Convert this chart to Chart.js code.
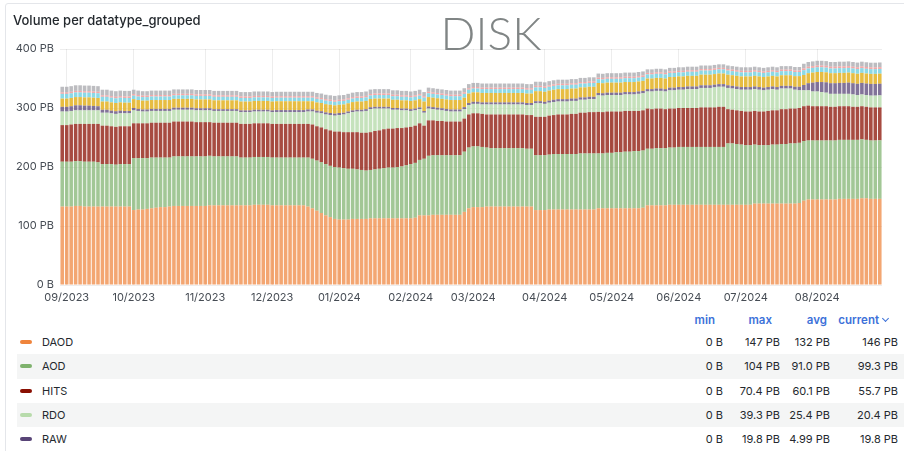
<!DOCTYPE html>
<html lang="en">
<head>
    <meta charset="UTF-8">
    <title>Volume per datatype_grouped</title>
    <script src="https://cdn.jsdelivr.net/npm/chart.js"></script>
    <style>
        body { margin: 0; width: 904px; height: 451px; overflow: hidden; background: #fff;
               font-family: Inter, "Noto Sans", sans-serif; position: relative; }
        .panel { position: absolute; left: 5px; top: 3px; width: 920px; height: 470px;
                 border: 1px solid #e4e6ea; border-radius: 3px; box-sizing: border-box; }
        .title { position: absolute; left: 13px; top: 12px; font-size: 13px; font-weight: 500;
                 line-height: 16px; color: #24292e; }
        .disk { position: absolute; left: 391px; top: 10px; width: 200px; text-align: center;
                font-family: Lato, sans-serif; font-weight: 300; font-size: 46px; line-height: 46px; color: #808585; }
        #chartBox { position: absolute; left: 0; top: 0; width: 904px; height: 310px; }
        .hdr { position: absolute; top: 312px; height: 16px; line-height: 16px; font-size: 11.5px;
               font-weight: 600; color: #3d71d9; text-align: right; }
        .chev { display: inline-block; width: 4px; height: 4px; border-right: 1.3px solid #3d71d9;
                border-bottom: 1.3px solid #3d71d9; transform: rotate(45deg); margin-left: 4px;
                position: relative; top: -3px; }
        .row { position: absolute; left: 17px; width: 887px; height: 24.3px; }
        .row.alt { background: #f4f5f5; }
        .dash { position: absolute; left: 3px; top: 10px; width: 12px; height: 4px; border-radius: 2px; }
        .name { position: absolute; left: 25px; top: 0; line-height: 24px; font-size: 11px; color: #24292e; }
        .val { position: absolute; top: 0; line-height: 24px; font-size: 11px; color: #24292e; text-align: right; }
    </style>
</head>
<body>
    <div class="panel"></div>
    <div id="chartBox"><canvas id="diskChart" width="904" height="310"></canvas></div>
    <div class="title">Volume per datatype_grouped</div>
    <div class="disk">DISK</div>
    <div id="legend"></div>

    <script>
        // bars every 2 days, from 30/08/2023 to 30/08/2024
        const startDate = Date.UTC(2023, 7, 30);
        const stepDays = 2;

        const tickLabels = ['09/2023', '10/2023', '11/2023', '12/2023', '01/2024', '02/2024',
                            '03/2024', '04/2024', '05/2024', '06/2024', '07/2024', '08/2024'];

        // volumes in PB
        const daod = [
            133,133,133,134,134,133,133,133,133,133,
            133,133,133,133,133,133,127,128,128,129,
            130,131,132,132,133,134,134,134,134,134,
            134,134,134,135,135,135,135,135,135,135,
            135,135,135,136,136,136,136,135,135,135,
            135,135,135,135,135,133,130,126,122,118,
            115,112,111,111,111,112,112,112,112,113,
            113,113,113,113,113,113,113,113,113,114,
            118,118,118,119,119,119,119,119,119,119,
            124,130,132,132,132,133,133,133,133,133,
            133,133,133,133,133,133,127,127,127,128,
            128,128,128,128,128,128,128,128,128,128,
            130,130,130,130,130,130,130,130,130,130,
            131,135,135,135,135,135,136,136,136,136,
            136,136,136,136,136,136,136,136,136,136,
            136,136,136,136,136,138,138,138,138,138,
            138,138,138,138,138,139,143,145,145,145,
            145,145,145,145,146,146,146,146,146,147,
            147,146,146,146
        ];
        const aod = [
            76,76,76,76,76,76,76,76,75,72,
            72,72,71,72,72,72,88,87,87,86,
            86,85,84,84,83,84,84,84,84,84,
            84,84,84,84,83,83,83,83,83,83,
            81,81,81,81,81,81,81,81,81,81,
            81,81,81,81,81,83,84,85,86,87,
            87,88,88,87,86,85,84,83,82,82,
            83,84,85,86,86,87,88,90,92,93,
            94,96,101,101,101,101,101,101,101,101,
            102,103,103,103,102,100,99,99,99,99,
            99,99,99,99,98,98,93,93,93,93,
            94,94,94,94,94,94,95,95,95,95,
            93,93,94,94,95,95,96,96,97,97,
            97,96,96,97,97,97,97,97,98,98,
            98,98,98,98,98,98,98,98,98,104,
            104,103,102,101,101,100,99,99,99,100,
            100,101,101,102,102,102,101,100,100,100,
            100,100,100,100,100,100,100,100,100,100,
            99,99,99,99.3
        ];
        const hits = [
            62,62,63,63,63,64,64,64,65,65,
            65,64,64,64,64,64,59,59,59,59,
            59,59,59,59,59,59,59,59,59,59,
            58,58,58,57,57,57,57,57,57,57,
            57,57,57,57,57,57,57,57,57,57,
            57,57,57,57,57,57,58,58,59,59,
            60,60,61,61,62,62,63,63,64,64,
            65,65,66,66,66,66,65,64,63,63,
            62,56,60,59,58,58,57,57,57,57,
            56,56,56,56,56,56,57,57,57,57,
            57,57,57,57,57,57,65,65,65,66,
            66,67,67,67,68,68,69,69,70,70,
            70.4,70,70,70,69,69,69,69,68,68,
            68,68,67,67,67,66,66,66,66,66,
            66,66,66,67,67,67,67,68,68,58,
            57,57,57,57,57,57,57,57,58,58,
            58,59,59,59,59,59,59,59,58,58,
            58,58,57,57,57,57,57,56,56,56,
            56,56,56,55.7
        ];
        const rdo = [
            23,23,23,23,23,23,23,23,23,22,
            22,22,22,22,22,22,22,21,20,20,
            20,20,20,20,20,20,20,20,20,20,
            20,20,20,20,20,20,20,20,20,20,
            20,20,20,20,20,20,20,20,20,20,
            20,20,20,20,20,21,22,23,24,25,
            26,27,28,30,32,34,35,36,37,39.3,
            38,37,35,34,32,31,30,29,27,26,
            24,22,20,19,19,18,18,17,17,17,
            16,16,16,16,16,17,17,17,17,17,
            17,17,17,17,17,17,23,23,22,22,
            22,22,22,22,22,22,22,22,22,22,
            28,28,28,28,28,28,28,28,28,29,
            29,29,30,30,30,30,31,31,31,31,
            32,32,32,33,33,33,34,34,34,36,
            36,36,36,37,37,37,37,36,36,36,
            35,35,35,34,32,30,27,26,25,25,
            24,23,22,22,21,21,21,21,20,20,
            20,20,20,20.4
        ];
        const raw = [
            8,8,8,8.5,8.5,8,8,7.5,7,5,
            5,4.5,4.5,4.5,4,4,4,3.5,3.5,3.5,
            3.5,3.5,3.5,3.5,3.5,3.5,3.5,3.5,3.5,3.5,
            3.5,3.5,3.5,3.5,3,3,3,3,3,3,
            3,3,3,3,3,3,3,3,3.5,3.5,
            3.5,3.5,3.5,3.5,3.5,3.5,3.5,3.5,3.5,3.5,
            3.5,3.5,3.5,3,3,3,3,3,3,3,
            3,3,3,3,3,3,3,3,3,3,
            3,3,3.5,3.5,3.5,3.5,3.5,3.5,3.5,3.5,
            3.5,3.5,3.5,3.5,3.5,3.5,3.5,3.5,3.5,3.5,
            3.5,3.5,3.5,3.5,3.5,3.5,3.5,3.5,3.5,3.5,
            4,4,4,4,4,4,4,4,4,4,
            4,4,4,4,4,4,4,4,4,4,
            4,4,4,4,4,4,4.5,4.5,4.5,4.5,
            4.5,4.5,4.5,4.5,4.5,4.5,4.5,4.5,4.5,4.5,
            4.5,4.5,4.5,4.5,4.5,4.5,4.5,4.5,4.5,4.5,
            4.5,4.5,4.5,4.5,5,6,9,12,15,16,
            17,17.5,18,18,18.5,18.5,19,19,19,19.5,
            19.5,19.8,19.8,19.8
        ];
        const evnt = [
            14,14,14,14,14,14,14,14,14,14,
            14,14,14,14,14,14,15,15,15,15,
            15,15,15,15,15,15,15,15,15,15,
            15,15,15,15,15,15,15,15,15,15,
            15,15,15,15,15,15,15,15,15,15,
            15,15,15,15,15,14,14,14,14,14,
            14,14,14,14,14,14,14,14,14,14,
            14,14,14,14,14,14,14,14,14,14,
            14,16,16,16,16,16,16,16,16,16,
            16,16,16,16,16,16,16,16,16,16,
            16,16,16,16,16,16,17,17,17,17,
            17,17,17,17,17,17,17,17,17,17,
            17,17,17,17,17,17,17,17,17,17,
            17,18,18,18,18,18,18,18,18,18,
            18,18,18,18,18,18,18,18,18,18,
            18,18,18,18,18,18,18,18,18,18,
            18,18,18,18,18,18,17,17,17,17,
            17,17,17,17,17,17,17,17,17,17,
            17,17,17,17
        ];
        const ntup = [
            8,8,8,8,8,8,8,8,8,8,
            8,8,8,8,8,8,6,6,6,6,
            6,6,6,6,6,6,6,6,6,6,
            6,6,6,6,6,6,6,6,6,6,
            6,6,6,6,6,6,6,6,6,6,
            6,6,6,6,6,6,6,6,6,6,
            6,6,6,6,6,6,6,6,6,6,
            6,6,6,6,6,6,6,6,6,6,
            6,6.5,6.5,6.5,6.5,6.5,6.5,6.5,6.5,6.5,
            6.5,6.5,6.5,6.5,6.5,6.5,6.5,6.5,6.5,6.5,
            6.5,6.5,6.5,6.5,6.5,6.5,6.5,6.5,6.5,6.5,
            6.5,6.5,6.5,6.5,6.5,6.5,6.5,6.5,6.5,6.5,
            6.5,6.5,6.5,6.5,6.5,6.5,6.5,6.5,6.5,6.5,
            6.5,7,7,7,7,7,7,7,7,7,
            7,7,7,7,7,7,7,7,7,7,
            7,7,7,7,7,7,7,7,7,7,
            7,7,7,7,7,7,8,8,8,8,
            8,8,8,8,8,8,8,8,8,8,
            8,8,8,8
        ];
        const hist = [
            2.5,2.5,2.5,2.5,2.5,2.5,2.5,2.5,2.5,2.5,
            2.5,2.5,2.5,2.5,2.5,2.5,2.5,2.5,2.5,2.5,
            2.5,2.5,2.5,2.5,2.5,2.5,2.5,2.5,2.5,2.5,
            2.5,2.5,2.5,2.5,2.5,2.5,2.5,2.5,2.5,2.5,
            2.5,2.5,2.5,2.5,2.5,2.5,2.5,2.5,2.5,2.5,
            2.5,2.5,2.5,2.5,2.5,2.5,2.5,2.5,2.5,2.5,
            2.5,2.5,2.5,2.5,2.5,2.5,2.5,2.5,2.5,2.5,
            2.5,2.5,2.5,2.5,2.5,2.5,2.5,2.5,2.5,2.5,
            2.5,2.5,2.5,2.5,2.5,2.5,2.5,2.5,2.5,2.5,
            2.5,2.5,2.5,2.5,2.5,2.5,2.5,2.5,2.5,2.5,
            2.5,2.5,2.5,2.5,2.5,2.5,2.5,2.5,2.5,2.5,
            2.5,2.5,2.5,2.5,2.5,2.5,2.5,2.5,2.5,2.5,
            2.5,2.5,2.5,2.5,2.5,2.5,2.5,2.5,2.5,2.5,
            2.5,2.5,2.5,2.5,2.5,2.5,2.5,2.5,2.5,2.5,
            2.5,2.5,2.5,2.5,2.5,2.5,2.5,2.5,2.5,2.5,
            2.5,2.5,2.5,2.5,2.5,2.5,2.5,2.5,2.5,2.5,
            2.5,2.5,2.5,2.5,2.5,2.5,3,3,3,3,
            3,3,3,3,3,3,3,3,3,3,
            3,3,3,3
        ];
        const logs = [
            9.5,9.5,9.5,9.5,9.5,9.5,9.5,9.5,9.5,9.5,
            9.5,9.5,9.5,9.5,9.5,9.5,7.5,7.5,7.5,7.5,
            7.5,7.5,7.5,7.5,7.5,7.5,7.5,7.5,7.5,7.5,
            7.5,7.5,7.5,7.5,7.5,7.5,7.5,7.5,7.5,7.5,
            7.5,7.5,7.5,7.5,7.5,7.5,7.5,7.5,7.5,7.5,
            7.5,7.5,7.5,7.5,7.5,7.5,7.5,7.5,7.5,7.5,
            7.5,7.5,7.5,7.5,7.5,7.5,7.5,7.5,7.5,7.5,
            7.5,7.5,7.5,7.5,7.5,7.5,7.5,7.5,7.5,7.5,
            7.5,7,7,7,7,7,7,7,7,7,
            7,7,7,7,7,7,7,7,7,7,
            7,7,7,7,7,7,7,7,7,7,
            7,7,7,7,7,7,7,7,7,7,
            7,7,7,7,7,7,7,7,7,7,
            7,6,6,6,6,6,6,6,6,6,
            6,6,6,6,6,6,6,6,6,6,
            6,6,6,6,6,6,6,6,6,6,
            6,6,6,6,6,6,8,8,8,8,
            8,8,8,8,8,8,8,8,8,8,
            8,8,8,8
        ];

        const seriesNames = ['DAOD', 'AOD', 'HITS', 'RDO', 'RAW', 'EVNT', 'NTUP', 'HIST', 'log'];
        const seriesData = [daod, aod, hits, rdo, raw, evnt, ntup, hist, logs];

        // legend stats (only the first five rows are visible)
        const statMin = ['0 B', '0 B', '0 B', '0 B', '0 B'];
        const statMax = ['147 PB', '104 PB', '70.4 PB', '39.3 PB', '19.8 PB'];
        const statAvg = ['132 PB', '91.0 PB', '60.1 PB', '25.4 PB', '4.99 PB'];
        const statCurrent = ['146 PB', '99.3 PB', '55.7 PB', '20.4 PB', '19.8 PB'];

        const lineColors = ['#EF843C', '#7EB26D', '#890F02', '#B7DBAB', '#584477',
                            '#EAB839', '#6ED0E0', '#F29191', '#A0A0A0'];
        const barColors = ['rgba(239,132,60,0.72)', 'rgba(126,178,109,0.72)', 'rgba(137,15,2,0.75)',
                           'rgba(183,219,171,0.8)', 'rgba(88,68,119,0.75)', 'rgba(228,180,40,0.88)',
                           'rgba(110,208,224,0.8)', 'rgba(242,145,145,0.8)', 'rgba(160,160,165,0.7)'];

        // date categories
        const pad = n => String(n).padStart(2, '0');
        const labels = daod.map((_, i) => {
            const d = new Date(startDate + i * stepDays * 86400000);
            return d.getUTCFullYear() + '-' + pad(d.getUTCMonth() + 1) + '-' + pad(d.getUTCDate());
        });
        const monthOf = l => l.slice(5, 7) + '/' + l.slice(0, 4);
        const tickIndex = tickLabels.map(t => labels.findIndex(l => monthOf(l) === t));

        const tickColor = '#464c54';
        const gridColor = 'rgba(0,0,0,0.07)';

        new Chart(document.getElementById('diskChart'), {
            type: 'bar',
            data: {
                labels: labels,
                datasets: seriesNames.map((name, k) => ({
                    label: name,
                    data: seriesData[k],
                    backgroundColor: barColors[k],
                    borderWidth: 0,
                    barPercentage: 0.8,
                    categoryPercentage: 1
                }))
            },
            options: {
                responsive: false,
                animation: false,
                devicePixelRatio: 1,
                layout: { padding: { top: 49, right: 22, left: 0, bottom: 0 } },
                plugins: { legend: { display: false }, tooltip: { enabled: false } },
                scales: {
                    x: {
                        stacked: true,
                        border: { display: false },
                        grid: { offset: false, color: gridColor, drawTicks: false },
                        afterBuildTicks: s => { s.ticks = tickIndex.map(v => ({ value: v })); },
                        afterFit: s => { s.height = 25; },
                        ticks: {
                            autoSkip: false, maxRotation: 0, padding: 6, color: tickColor,
                            font: { family: 'Inter', size: 11 },
                            callback: v => tickLabels[tickIndex.indexOf(v)]
                        }
                    },
                    y: {
                        stacked: true,
                        min: 0,
                        max: 400,
                        border: { display: false },
                        grid: { color: gridColor, drawTicks: false },
                        afterFit: s => { s.width = 60; },
                        ticks: {
                            stepSize: 100, padding: 6, color: tickColor,
                            font: { family: 'Inter', size: 11 },
                            callback: v => v === 0 ? '0 B' : v + ' PB'
                        }
                    }
                }
            }
        });

        // legend table under the chart
        const legend = document.getElementById('legend');
        const colRight = [181, 124, 74, 6];
        const hdrRight = [189, 132, 77];
        ['min', 'max', 'avg'].forEach((h, c) => {
            legend.insertAdjacentHTML('beforeend',
                `<div class="hdr" style="right:${hdrRight[c]}px">${h}</div>`);
        });
        legend.insertAdjacentHTML('beforeend',
            '<div class="hdr" style="right:16px">current<span class="chev"></span></div>');

        seriesNames.slice(0, 5).forEach((name, k) => {
            const top = 330 + 24.3 * k;
            const vals = [statMin[k], statMax[k], statAvg[k], statCurrent[k]];
            let html = `<div class="row${k % 2 ? ' alt' : ''}" style="top:${top}px">` +
                `<div class="dash" style="background:${lineColors[k]}"></div>` +
                `<div class="name">${name}</div></div>`;
            vals.forEach((v, c) => {
                html += `<div class="val" style="top:${top}px;right:${colRight[c]}px">${v}</div>`;
            });
            legend.insertAdjacentHTML('beforeend', html);
        });
    </script>
</body>
</html>
